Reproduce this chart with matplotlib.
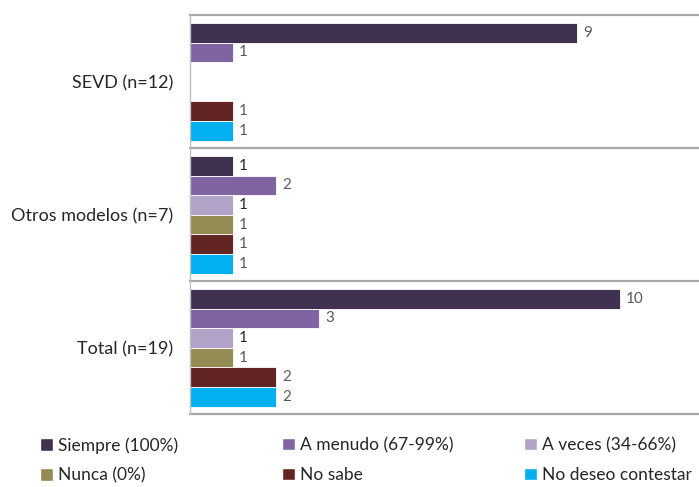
import matplotlib.pyplot as plt
from matplotlib.patches import Patch

plt.rcParams['font.family'] = ['Lato', 'DejaVu Sans']

groups = ['SEVD (n=12)', 'Otros modelos (n=7)', 'Total (n=19)']
series = ['Siempre (100%)', 'A menudo (67-99%)', 'A veces (34-66%)',
          'Nunca (0%)', 'No sabe', 'No deseo contestar']
colors = ['#403151', '#8064A2', '#B3A2C7', '#948A54', '#632523', '#00B0F0']

# values per series, one per group (0 = no bar)
siempre = [9, 1, 10]
a_menudo = [1, 2, 3]
a_veces = [0, 1, 1]
nunca = [0, 1, 1]
no_sabe = [1, 1, 2]
no_deseo = [1, 1, 2]
values = [siempre, a_menudo, a_veces, nunca, no_sabe, no_deseo]

W, H = 699, 487
fig = plt.figure(figsize=(W / 100, H / 100), dpi=100)
ax = fig.add_axes([190 / W, 1 - 414 / H, 1 - 190 / W, (414 - 15) / H])

bar_h = 0.1475
pad = 0.06
for j, (name, vals, c) in enumerate(zip(series, values, colors)):
    ys = [i + pad + (j + 0.5) * bar_h for i in range(len(groups))]
    for i, (y, v) in enumerate(zip(ys, vals)):
        if v == 0:
            continue
        ax.barh(y, v, height=bar_h, color=c, edgecolor='white', linewidth=0.6)
        dark = (j == 2) or (j == 0 and i == 1)
        ax.text(v + 0.14, y, str(v), va='center', ha='left', fontsize=11,
                color='#262626' if dark else '#595959')

ax.set_xlim(0, 509 / 43.0)
ax.set_ylim(3, 0)
ax.set_yticks([0.5, 1.5, 2.5])
ax.set_yticklabels(groups, fontsize=13, color='#262626')
ax.tick_params(axis='y', length=0, pad=12)
ax.set_xticks([])
for s in ['top', 'right', 'bottom']:
    ax.spines[s].set_visible(False)
ax.spines['left'].set_color('#BFBFBF')
ax.spines['left'].set_linewidth(1.0)
for yl in [0, 1, 2, 3]:
    ax.axhline(yl, color='#A6A6A6', linewidth=1.6, clip_on=False)

# legend: three columns, two rows
order = [[0, 3], [1, 4], [2, 5]]
col_x = [40, 282, 524]
for cx, idx in zip(col_x, order):
    handles = [Patch(facecolor=colors[k], edgecolor='white') for k in idx]
    leg = fig.legend(handles, [series[k] for k in idx], loc='upper left',
                     bbox_to_anchor=(cx / W, 1 - 437 / H), frameon=False,
                     fontsize=12.5, handlelength=0.75, handleheight=0.75,
                     handletextpad=0.3, labelspacing=0.8, borderpad=0,
                     borderaxespad=0, labelcolor='#262626')

fig.savefig('out.png', dpi=100)
